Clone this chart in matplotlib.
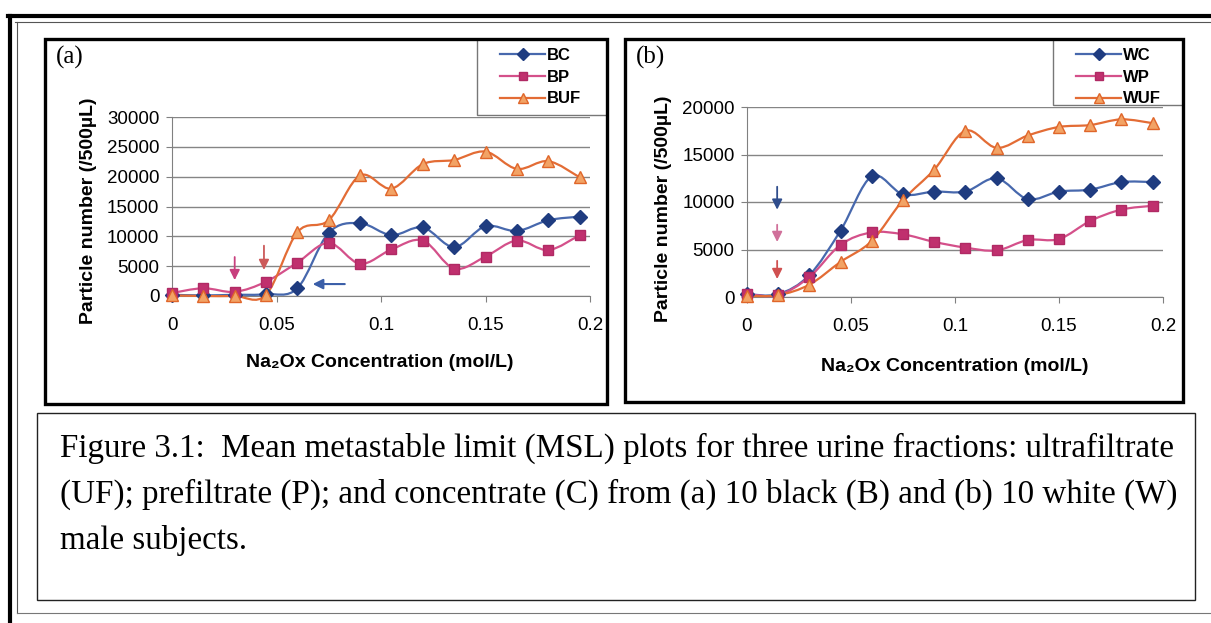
import matplotlib.pyplot as plt
from matplotlib.path import Path
from matplotlib.patches import PathPatch, Rectangle
from matplotlib.lines import Line2D

plt.rcParams['font.family'] = ['Liberation Sans', 'DejaVu Sans']

# Na2Ox concentration steps (mol/L)
conc = [0, 0.015, 0.03, 0.045, 0.06, 0.075, 0.09, 0.105, 0.12, 0.135, 0.15, 0.165, 0.18, 0.195]

# (a) black subjects, particle number per 500 uL
BC = [200, 100, 200, 300, 1300, 10600, 12200, 10200, 11500, 8200, 11700, 10900, 12700, 13300]
BP = [500, 1300, 700, 2400, 5600, 8900, 5400, 7800, 9300, 4600, 6600, 9300, 7700, 10200]
BUF = [100, 0, 0, 200, 10700, 12700, 20200, 18000, 22100, 22800, 24200, 21300, 22600, 19900]

# (b) white subjects
WC = [300, 300, 2300, 7000, 12700, 10800, 11100, 11100, 12500, 10300, 11100, 11300, 12100, 12100]
WP = [300, 200, 2100, 5500, 6800, 6600, 5800, 5200, 4900, 6000, 6100, 8000, 9200, 9600]
WUF = [100, 200, 1300, 3700, 5900, 10200, 13400, 17500, 15700, 17000, 17900, 18100, 18700, 18300]

# MSL arrows: (x, y_start, y_end, colour)
arrows_a = [(0.03, 7000, 2200, '#c8407e'), (0.044, 8900, 3900, '#cc5a5a')]
arrow_a_blue = (0.084, 0.066, 2000)
arrows_b = [(0.0145, 11900, 8900, '#2f4d8c'), (0.0145, 7900, 5500, '#d0709a'),
            (0.0145, 4100, 1600, '#d05050')]

caption = ["Figure 3.1:  Mean metastable limit (MSL) plots for three urine fractions: ultrafiltrate",
           "(UF); prefiltrate (P); and concentrate (C) from (a) 10 black (B) and (b) 10 white (W)",
           "male subjects."]

W, H = 1211, 623


def fx(x):
    return x / W


def fy(y):
    return 1 - y / H


def smooth_path(xs, ys):
    # smoothed line like Excel: Catmull-Rom segments as cubic Beziers
    pts = list(zip(xs, ys))
    n = len(pts)
    verts = [pts[0]]
    codes = [Path.MOVETO]
    for i in range(n - 1):
        p0 = pts[max(i - 1, 0)]
        p1 = pts[i]
        p2 = pts[i + 1]
        p3 = pts[min(i + 2, n - 1)]
        c1 = (p1[0] + (p2[0] - p0[0]) / 6, p1[1] + (p2[1] - p0[1]) / 6)
        c2 = (p2[0] - (p3[0] - p1[0]) / 6, p2[1] - (p3[1] - p1[1]) / 6)
        verts += [c1, c2, p2]
        codes += [Path.CURVE4] * 3
    return Path(verts, codes)


styles = [
    dict(line='#4768ad', marker='D', face='#1f3c80', edge='#1f3c80', ms=7),
    dict(line='#d4508a', marker='s', face='#c0306e', edge='#b02a64', ms=7),
    dict(line='#e36c35', marker='^', face='#f2a365', edge='#e0662a', ms=8),
]

fig = plt.figure(figsize=(12.11, 6.23), dpi=100)


def draw_panel(ax, series, names, ymax, legend_box):
    handles = []
    for ys, st in zip(series, styles):
        ax.add_patch(PathPatch(smooth_path(conc, ys), fill=False, edgecolor=st['line'],
                               lw=1.6, clip_on=False, zorder=3))
        ax.plot(conc, ys, linestyle='none', marker=st['marker'], ms=st['ms'],
                mfc=st['face'], mec=st['edge'], mew=1, clip_on=False, zorder=4)
        handles.append(Line2D([], [], color=st['line'], lw=1.6, marker=st['marker'],
                              ms=st['ms'] - 1, mfc=st['face'], mec=st['edge']))
    ax.set_xlim(0, 0.2)
    ax.set_ylim(0, ymax)
    ax.set_xticks([0, 0.05, 0.1, 0.15, 0.2])
    ax.set_xticklabels(['0', '0.05', '0.1', '0.15', '0.2'])
    ax.set_yticks(range(0, ymax + 1, 5000))
    ax.yaxis.grid(True, color='#858585', lw=1)
    ax.set_axisbelow(True)
    for s in ['top', 'right']:
        ax.spines[s].set_visible(False)
    for s in ['left', 'bottom']:
        ax.spines[s].set_color('#808080')
    ax.tick_params(axis='x', length=4, color='#808080', labelsize=13.5, pad=11)
    ax.tick_params(axis='y', length=4, color='#808080', labelsize=13.5, pad=5)
    ax.set_xlabel('Na\u2082Ox Concentration (mol/L)', fontsize=14, fontweight='bold', va='center')
    ax.set_ylabel('Particle number (/500\u00b5L)', fontsize=14, fontweight='bold', va='center')

    x0, y0, x1, y1 = legend_box
    fig.patches.append(Rectangle((fx(x0), fy(y1)), fx(x1 - x0), (y1 - y0) / H,
                                 transform=fig.transFigure, fill=False,
                                 edgecolor='#777777', lw=1))
    ax.legend(handles, names, loc='upper left', bbox_to_anchor=(fx(x0 + 23), fy(y0 + 9)),
              bbox_transform=fig.transFigure, frameon=False, handlelength=2.7,
              handletextpad=0.12, labelspacing=0.4, borderpad=0, borderaxespad=0,
              prop=dict(size=12, weight='bold'))


# panel (a)
ax1 = fig.add_axes([fx(172), fy(296), fx(590 - 172), (296 - 117) / H])
draw_panel(ax1, [BC, BP, BUF], ['BC', 'BP', 'BUF'], 30000, (477, 39, 607, 115))
ax1.xaxis.set_label_coords(0.498, -0.374)
ax1.yaxis.set_label_coords(-0.2, 0.475)
for x, ys, ye, c in arrows_a:
    ax1.annotate('', xy=(x, ye), xytext=(x, ys),
                 arrowprops=dict(arrowstyle='-|>', color=c, lw=1.3, mutation_scale=15))
xs, xe, y = arrow_a_blue
ax1.annotate('', xy=(xe, y), xytext=(xs, y),
             arrowprops=dict(arrowstyle='-|>', color='#3a5ea8', lw=1.5, mutation_scale=15))

# panel (b)
ax2 = fig.add_axes([fx(747), fy(297), fx(1163 - 747), (297 - 107) / H])
draw_panel(ax2, [WC, WP, WUF], ['WC', 'WP', 'WUF'], 20000, (1053, 39, 1183, 105))
ax2.xaxis.set_label_coords(0.5, -0.368)
ax2.yaxis.set_label_coords(-0.2, 0.463)
for x, ys, ye, c in arrows_b:
    ax2.annotate('', xy=(x, ye), xytext=(x, ys),
                 arrowprops=dict(arrowstyle='-|>', color=c, lw=1.3, mutation_scale=15))

# panel letters
fig.text(fx(56), fy(57), '(a)', family='Liberation Serif', fontsize=18, va='center')
fig.text(fx(636), fy(57), '(b)', family='Liberation Serif', fontsize=18, va='center')


def frame(x0, y0, x1, y1, lw, color):
    fig.patches.append(Rectangle((fx(x0), fy(y1)), fx(x1 - x0), (y1 - y0) / H,
                                 transform=fig.transFigure, fill=False,
                                 edgecolor=color, lw=lw))


def hline(y, x0, x1, lw, color):
    fig.add_artist(Line2D([fx(x0), fx(x1)], [fy(y), fy(y)], transform=fig.transFigure,
                          color=color, lw=lw))


def vline(x, y0, y1, lw, color):
    fig.add_artist(Line2D([fx(x), fx(x)], [fy(y0), fy(y1)], transform=fig.transFigure,
                          color=color, lw=lw))


# chart frames and caption box
frame(45, 39, 607, 404, 2.4, 'black')
frame(625, 39, 1183, 402, 2.4, 'black')
frame(37, 413, 1195, 600, 1.0, '#222222')

# outer page border
hline(16, 8, W, 3.0, 'black')
hline(22, 15, W, 0.8, '#555555')
vline(10, 16, H, 3.0, 'black')
vline(17, 22, 613, 0.8, '#555555')
hline(613, 17, W, 0.8, '#777777')

for i, line in enumerate(caption):
    fig.text(fx(60), fy(448 + 46.5 * i), line, family='Liberation Serif', fontsize=23.8,
             va='center', ha='left')

fig.savefig('out.png', dpi=100)
